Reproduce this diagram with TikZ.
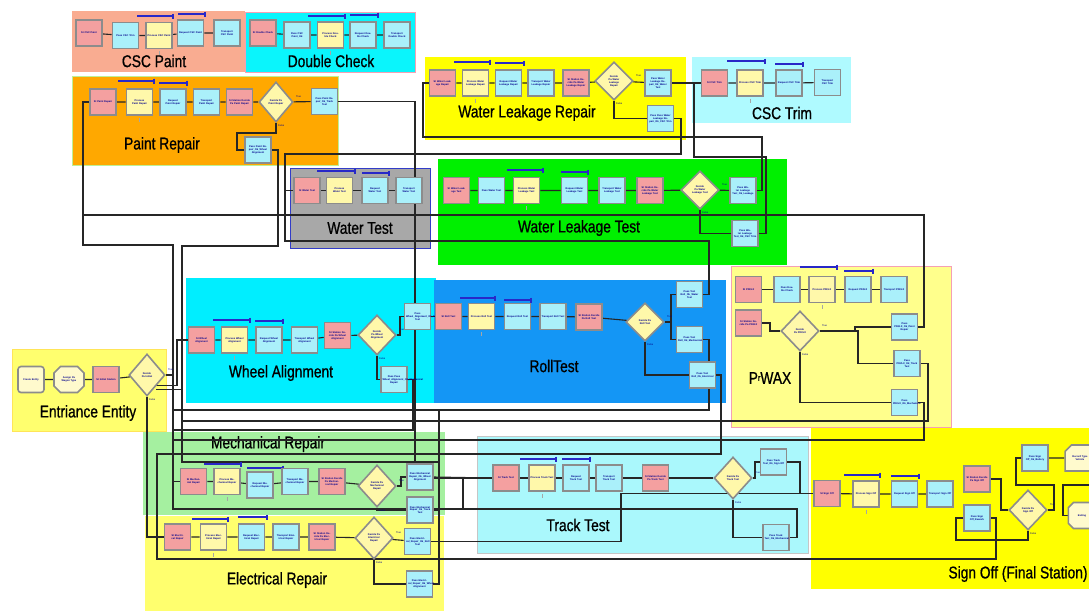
\documentclass[tikz,border=0pt]{standalone}
\usepackage{fontspec}
\setmainfont{Liberation Sans}
\newfontfamily\titlefont[FakeStretch=0.81,FakeBold=0.8]{Liberation Sans}
\usetikzlibrary{shapes.geometric,shapes.misc}
\definecolor{rcscpaint}{RGB}{249,172,145}
\definecolor{rdouble}{RGB}{10,245,252}
\definecolor{rpaint}{RGB}{255,168,0}
\definecolor{ryellow}{RGB}{255,255,0}
\definecolor{rtrim}{RGB}{175,250,255}
\definecolor{rwater}{RGB}{168,168,168}
\definecolor{rgreen}{RGB}{0,240,0}
\definecolor{rwheel}{RGB}{0,238,255}
\definecolor{rroll}{RGB}{20,150,245}
\definecolor{rpwax}{RGB}{255,255,140}
\definecolor{rentry}{RGB}{255,255,110}
\definecolor{rmech}{RGB}{165,240,160}
\definecolor{relec}{RGB}{255,255,110}
\definecolor{rtrack}{RGB}{170,248,252}
\definecolor{rsign}{RGB}{255,255,0}
\definecolor{rpinkb}{RGB}{245,160,180}
\definecolor{rgreenb}{RGB}{190,240,150}
\definecolor{rblueb}{RGB}{50,60,200}
\definecolor{stpink}{RGB}{244,160,160}
\definecolor{pscyan}{RGB}{170,240,250}
\definecolor{pryellow}{RGB}{255,248,170}
\definecolor{lyell}{RGB}{255,250,205}
\definecolor{boxgray}{RGB}{140,140,140}
\definecolor{boxtext}{RGB}{0,0,140}
\definecolor{barblue}{RGB}{40,40,200}
\newcommand\boxfont{\fontsize{2.5}{2.9}\selectfont\bfseries}
\newcommand\tffont{\fontsize{2.5}{3}\selectfont}
\newcommand\myrbar[3]{\draw[resbarst] (#1,#3) -- (#2,#3) (#2,#3-2.5) -- (#2,#3+2.5);}
\newcommand\myqt[1]{\draw[qt] ([yshift=-2pt]#1.south) -- ([yshift=-6pt]#1.south);}
\pgfdeclarelayer{reg}
\pgfdeclarelayer{lines}
\pgfsetlayers{reg,lines,main}
\begin{document}
\begin{tikzpicture}[x=1pt,y=-1pt,
  cn/.style={draw=black!85, line width=1.1pt},
  mbox/.style={draw=boxgray, line width=1.6pt, minimum width=26pt, minimum height=26pt, inner sep=0.5pt, align=center, text width=23pt, font=\boxfont, text=boxtext},
  stb/.style={mbox, fill=stpink},
  psb/.style={mbox, fill=pscyan},
  prb/.style={mbox, fill=pryellow},
  dec/.style={diamond, draw=boxgray, line width=1.6pt, fill=pryellow, minimum width=38pt, minimum height=40pt, inner sep=0pt, align=center, text width=17pt, font=\boxfont, text=boxtext},
  ttl/.style={font=\titlefont\fontsize{17}{19}\selectfont, text=black, inner sep=0pt},
  resbarst/.style={draw=barblue, line width=1.2pt},
  tf/.style={font=\tffont, text=boxtext, inner sep=0pt},
  qt/.style={draw=gray!70, line width=0.5pt}]
\useasboundingbox (0,0) rectangle (1089,611);
\begin{pgfonlayer}{reg}
\fill[white] (0,0) rectangle (1089,611);
% ---------------- regions
\path[fill=rcscpaint] (72,11) rectangle (245,72);
\path[fill=rdouble, draw=rpinkb, line width=0.8pt] (245,12) rectangle (415,72);
\path[fill=rpaint, draw=rgreenb, line width=0.8pt] (72,76) rectangle (338,165);
\path[fill=ryellow] (425,57) rectangle (686,140);
\path[fill=rtrim] (692,57) rectangle (851,123);
\path[fill=rwater, draw=rblueb, line width=1pt] (290,168) rectangle (430,248);
\path[fill=rgreen] (438,159) rectangle (787,265);
\path[fill=rwheel] (186,278) rectangle (436,403);
\path[fill=rroll] (434,280) rectangle (726,403);
\path[fill=rpwax, draw=rpinkb, line width=0.8pt] (731,266) rectangle (951,427);
\path[fill=rentry, draw=rentry!80!orange, line width=0.6pt] (12,349) rectangle (166,431);
\path[fill=rmech] (143,432) rectangle (445,515);
\path[fill=relec] (145,516) rectangle (444,611);
\path[fill=rtrack, draw=gray!45, line width=0.8pt] (477,436) rectangle (808,553);
\path[fill=rsign] (811,428) rectangle (1089,589);
% ---------------- titles
\node[ttl] (tA) at (154,61) {CSC Paint};
\node[ttl] (tB) at (331,61) {Double Check};
\node[ttl] (tC) at (162,145) {Paint Repair};
\node[ttl] (tD) at (527,113) {Water Leakage Repair};
\node[ttl] (tE) at (782,113) {CSC Trim};
\node[ttl] (tF) at (360,228) {Water Test};
\node[ttl] (tG) at (579,228) {Water Leakage Test};
\node[ttl] (tH) at (281,373) {Wheel Alignment};
\node[ttl] (tI) at (554,366) {RollTest};
\node[ttl] (tJ) at (770,378) {P\raisebox{3pt}{\fontsize{9}{9}\selectfont r}WAX};
\node[ttl] (tK) at (88,413) {Entriance Entity};
\node[ttl] (tL) at (268,444) {Mechanical Repair};
\node[ttl] (tM) at (277,580) {Electrical Repair};
\node[ttl] (tN) at (578,525) {Track Test};
\node[ttl] (tO) at (1018,574) {Sign Off (Final Station)};
\end{pgfonlayer}
% ---------------- resource bars
\myrbar{137}{173}{16} \myrbar{178}{205}{14}
\myrbar{308}{345}{16} \myrbar{350}{378}{15}
\myrbar{118}{154}{81} \myrbar{159}{187}{83}
\myrbar{454}{490}{62} \myrbar{495}{524}{63}
\myrbar{727}{765}{61} \myrbar{775}{803}{64}
\myrbar{317}{355}{171} \myrbar{362}{389}{173}
\myrbar{507}{543}{170} \myrbar{561}{588}{172}
\myrbar{213}{250}{320} \myrbar{255}{283}{321}
\myrbar{460}{495}{298} \myrbar{504}{531}{300}
\myrbar{800}{837}{267} \myrbar{844}{873}{271}
\myrbar{204}{241}{464} \myrbar{247}{283}{468}
\myrbar{192}{228}{519} \myrbar{238}{267}{517}
\myrbar{520}{556}{459} \myrbar{562}{590}{459}
\myrbar{844}{880}{475} \myrbar{891}{919}{476}
% ---------------- free end
\coordinate (offR) at (1089,485);
% ---------------- nodes: CSC Paint
\node[stb] (cp1) at (89,33) {St CSC Paint};
\node[psb] (cp2) at (125.5,35.5) {Pass CSC Trim};
\node[prb] (cp3) at (159,35.5) {Process CSC Paint};
\node[psb] (cp4) at (190.5,33) {Request CSC Paint};
\node[psb] (cp5) at (227,33) {Transport CSC Paint};
% Double Check
\node[stb] (dc1) at (263,33) {St Double Check};
\node[psb] (dc2) at (297,35) {Pass CSC Paint\_Ok};
\node[prb] (dc3) at (330.5,35) {Process Double Check};
\node[psb] (dc4) at (363,35) {Request Double Check};
\node[psb] (dc5) at (397,35) {Transport Double Check};
% Paint Repair
\node[stb] (pr1) at (103,102) {St Paint Repair};
\node[prb] (pr2) at (139.5,102) {Process Paint Repair};
\node[psb] (pr3) at (173,102) {Request Paint Repair};
\node[psb] (pr4) at (206.5,102) {Transport Paint Repair};
\node[stb] (pr5) at (239.5,102) {St Station Decide Pa Paint Repair};
\node[dec, minimum width=34pt] (prd) at (276,102) {Decide Pa Paint Repair};
\node[psb] (prp1) at (324.5,101.5) {Pass Paint Repair\_Ok\_Track Test};
\node[psb] (prp2) at (258,150) {Pass Paint Repair\_Ok\_Wheel Alignment};
% Water Leakage Repair
\node[stb] (wr1) at (442.5,83) {St Water Leakage Repair};
\node[prb] (wr2) at (475.5,83) {Process Water Leakage Repair};
\node[psb] (wr3) at (508.5,83) {Request Water Leakage Repair};
\node[psb] (wr4) at (541,83) {Transport Water Leakage Repair};
\node[stb] (wr5) at (576,83) {St Station Decide Pa Water Leakage Repair};
\node[dec, minimum height=38pt] (wrd) at (614,81) {Decide Pa Water Leakage Repair};
\node[psb] (wrp1) at (658,83) {Pass Water Leakage Repair\_Ok\_Water Test};
\node[psb] (wrp2) at (660.5,118.5) {Pass Pass Water Leakage Repair\_Ok\_CSC Trim};
% CSC Trim
\node[stb] (ct1) at (714.5,83) {St CSC Trim};
\node[prb] (ct2) at (750,83) {Process CSC Trim};
\node[psb] (ct3) at (789,83) {Request CSC Trim};
\node[psb] (ct4) at (827.5,82.5) {Transport CSC Trim};
% Water Test
\node[stb] (wt1) at (307,190.5) {St Water Test};
\node[prb] (wt2) at (339.5,190.5) {Process Water Test};
\node[psb] (wt3) at (375,190.5) {Request Water Test};
\node[psb] (wt4) at (409,190.5) {Transport Water Test};
% Water Leakage Test
\node[stb] (wl1) at (456.5,190.5) {St Water Leakage Test};
\node[psb] (wl2) at (491.5,190.5) {Pass Water Test};
\node[prb] (wl3) at (526.5,190.5) {Process Water Leakage Test};
\node[psb] (wl4) at (574.5,190.5) {Request Water Leakage Test};
\node[psb] (wl5) at (612,190.5) {Transport Water Leakage Test};
\node[stb] (wl6) at (650,190.5) {St Station Decide Pa Water Leakage Test};
\node[dec, minimum height=38pt] (wld) at (700,190) {Decide Pa Water Leakage Test};
\node[psb] (wlp1) at (743,190.5) {Pass Water Leakage Test\_Ok\_Leakage};
\node[psb] (wlp2) at (745,233.5) {Pass Water Leakage Test\_Ok\_CSC Trim};
% Wheel Alignment
\node[stb] (wa1) at (201.5,340) {St Wheel Alignment};
\node[prb] (wa2) at (234.5,340) {Process Wheel Alignment};
\node[psb] (wa3) at (269,340) {Request Wheel Alignment};
\node[psb] (wa4) at (304.5,340) {Transport Wheel Alignment};
\node[stb] (wa5) at (337.5,335.5) {St Station Decide Pa Wheel Alignment};
\node[dec] (wad) at (377,335) {Decide Pa Wheel Alignment};
\node[psb] (wap1) at (417.5,316.5) {Pass Wheel\_Alignment\_Ok\_Roll Test};
\node[psb] (wap2) at (394,379.5) {Pass Pass Wheel\_Alignment\_Ok\_Mechanical Repair};
% Roll Test
\node[stb] (rt1) at (448.5,316.5) {St Roll Test};
\node[prb] (rt2) at (481.5,316.5) {Process Roll Test};
\node[psb] (rt3) at (517.5,316.5) {Request Roll Test};
\node[psb] (rt4) at (553,316.5) {Transport Roll Test};
\node[stb] (rt5) at (589,317) {St Station Decide Pa Roll Test};
\node[dec, minimum height=38pt] (rtd) at (645,322) {Decide Pa Roll Test};
\node[psb] (rtp1) at (689.5,294.5) {Pass Test Roll\_Ok\_Water Test};
\node[psb] (rtp2) at (689.5,339.5) {Pass Test Roll\_Ok\_Mechanical};
\node[psb] (rtp3) at (702.5,375) {Pass Test Roll\_Ok\_Electrical};
% PWAX
\node[stb] (pw1s) at (748.5,289.5) {St PDI/LX};
\node[psb] (pw2s) at (787,289.5) {Pass Double Check};
\node[prb] (pw3s) at (822,289.5) {Process PDI/LX};
\node[psb] (pw4s) at (858,289.5) {Request PDI/LX};
\node[psb] (pw5s) at (894,289.5) {Transport PDI/LX};
\node[stb] (pw6s) at (748.5,323) {St Station Decide Pa PDI/LX};
\node[dec] (pwd) at (800,331) {Decide Pa PDI/LX};
\node[psb] (pwp1) at (904.5,327) {Pass PDI/LX\_Ok\_Paint Repair};
\node[psb] (pwp2) at (907,363.5) {Pass PDI/LX\_Ok\_Track Test};
\node[psb] (pwp3) at (904.5,402.5) {Pass PDI/LX\_Ok\_Mechanical};
% Entry
\node[mbox, fill=lyell, rounded corners=3pt] (en1) at (31,379.5) {Create Entity};
\node[mbox, fill=lyell, chamfered rectangle, chamfered rectangle xsep=3pt] (en2) at (69,379.5) {Assign Pa Wagon Type};
\node[stb] (en3) at (106,379.5) {St Initial Station};
\node[dec, minimum width=36pt, minimum height=42pt] (end) at (147,375) {Decide Pa Initial};
% Mechanical
\node[stb] (me1) at (193.5,481.5) {St Mechanical Repair};
\node[prb] (me2) at (227,481.5) {Process Mechanical Repair};
\node[psb] (me3) at (260,485) {Request Mechanical Repair};
\node[psb] (me4) at (295,481.5) {Transport Mechanical Repair};
\node[stb] (me5) at (332,481.5) {St Station Decide Pa Mechanical Repair};
\node[dec, minimum height=42pt] (med) at (377,486) {Decide Pa Mechanical Repair};
\node[psb] (mep1) at (420,477) {Pass Mechanical Repair\_Ok\_Wheel Alignment};
\node[psb] (mep2) at (420,510) {Pass Mechanical Repair\_Ok\_Track Test};
% Electrical
\node[stb] (el1) at (177.5,537) {St Electrical Repair};
\node[prb] (el2) at (213.5,537) {Process Electrical Repair};
\node[psb] (el3) at (251.5,537) {Request Electrical Repair};
\node[psb] (el4) at (286,537) {Transport Electrical Repair};
\node[stb] (el5) at (322,537) {St Station Decide Pa Electrical Repair};
\node[dec, minimum height=42pt] (eld) at (374,538) {Decide Pa Electrical Repair};
\node[psb] (elp1) at (417.5,541.5) {Pass Electrical\_Repair\_Ok\_Roll Test};
\node[psb] (elp2) at (419.5,584) {Pass Electrical\_Repair\_Ok\_Wheel Alignment};
% Track Test
\node[stb] (tt1) at (506,478) {St Track Test};
\node[prb] (tt2) at (542,478) {Process Track Test};
\node[psb] (tt3) at (576,478) {Request Track Test};
\node[psb] (tt4) at (609,478) {Transport Track Test};
\node[stb] (tt5) at (655.5,478) {St Station Decide Pa Track Test};
\node[dec, minimum height=42pt] (ttd) at (733,478) {Decide Pa Track Test};
\node[psb] (ttp1) at (773.5,462) {Pass Track Test\_Ok\_Sign Off};
\node[psb] (ttp2) at (776,537.5) {Pass Track Test\_Ok\_Mechanical};
% Sign Off
\node[stb] (so1) at (827,493.5) {St Sign Off};
\node[prb] (so2) at (866,494) {Process Sign Off};
\node[psb] (so3) at (904.5,494) {Request Sign Off};
\node[psb] (so4) at (940,494) {Transport Sign Off};
\node[stb] (so5) at (977,479) {St Station Decide Pa Sign Off};
\node[psb] (so6) at (977,518) {Pass Sign Off\_Rework};
\node[dec] (sod) at (1028,510) {Decide Pa Sign Off};
\node[psb] (sop1) at (1035,458) {Pass Sign Off\_Ok\_Battery};
\node[mbox, fill=lyell, chamfered rectangle, chamfered rectangle corners={north west}, chamfered rectangle xsep=4pt] (sorec) at (1080,458) {Record Type Vehicle};
\node[mbox, fill=lyell, chamfered rectangle, chamfered rectangle corners={north west,south west}, chamfered rectangle xsep=4pt] (soleave) at (1082,515.5) {Exiting};
% ---------------- queue ticks
\foreach \n in {cp3,dc3,pr2,wr2,ct2,wt2,wl3,wa2,rt2,pw3s,me2,el2,tt2,so2} {\myqt{\n}}
% ---------------- True / False labels
\foreach \d in {prd,wrd,wld,wad,rtd,pwd,end,med,eld,ttd,sod} {
  \node[tf, anchor=west] at ([shift={(2,-5)}]\d.east) {True};
  \node[tf, anchor=west] at ([shift={(2,3)}]\d.south) {False};
}
% ---------------- connectors
\begin{pgfonlayer}{lines}
% chains
\draw[cn] (cp1) -- (cp2) -- (cp3) -- (cp4) -- (cp5);
\draw[cn] (dc1) -- (dc2) -- (dc3) -- (dc4) -- (dc5);
\draw[cn] (pr1) -- (pr2) -- (pr3) -- (pr4) -- (pr5) -- (prd) -- (prp1);
\draw[cn] (wr1) -- (wr2) -- (wr3) -- (wr4) -- (wr5) -- (wrd) -- (wrp1);
\draw[cn] (ct1) -- (ct2) -- (ct3) -- (ct4);
\draw[cn] (wt1) -- (wt2) -- (wt3) -- (wt4);
\draw[cn] (wl1) -- (wl2) -- (wl3) -- (wl4) -- (wl5) -- (wl6) -- (wld) -- (wlp1);
\draw[cn] (wa1) -- (wa2) -- (wa3) -- (wa4) -- (wa5) -- (wad);
\draw[cn] (rt1) -- (rt2) -- (rt3) -- (rt4) -- (rt5) -- (rtd);
\draw[cn] (pw1s) -- (pw2s) -- (pw3s) -- (pw4s) -- (pw5s);
\draw[cn] (en1) -- (en2) -- (en3) -- (end);
\draw[cn] (me1) -- (me2) -- (me3) -- (me4) -- (me5) -- (med);
\draw[cn] (el1) -- (el2) -- (el3) -- (el4) -- (el5) -- (eld) -- (elp1);
\draw[cn] (tt1) -- (tt2) -- (tt3) -- (tt4) -- (tt5) -- (ttd);
\draw[cn] (so1) -- (so2) -- (so3) -- (so4);
\draw[cn] (sop1) -- (sorec);
% decide branches
\draw[cn] (prd.south) -- (276,133) -| (237,150) -- (prp2.west);
\draw[cn] (wrd.south) |- (wrp2.west);
\draw[cn] (wld.south) |- (wlp2.west);
\draw[cn] (wad.east) -| (400,316.5) -- (wap1.west);
\draw[cn] (wad.south) |- (wap2.west);
\draw[cn] (rtd.east) -| (671,294.5) -- (rtp1.west);
\draw[cn] (671,322) |- (rtp2.west);
\draw[cn] (rtd.south) |- (rtp3.west);
\draw[cn] (pw6s.east) -| (770,331) -- (pwd.west);
\draw[cn] (pwd.east) -| (855,327) -- (pwp1.west);
\draw[cn] (pwd.east) -| (858,363.5) -- (pwp2.west);
\draw[cn] (pwd.south) |- (pwp3.west);
\draw[cn] (med.east) -| (401,477) -- (mep1.west);
\draw[cn] (med.south) |- (mep2.west);
\draw[cn] (eld.south) |- (elp2.west);
\draw[cn] (ttd.east) -| (755,462) -- (ttp1.west);
\draw[cn] (ttd.south) |- (ttp2.west);
\draw[cn] (so5.east) -| (1001,510) -- (sod.west);
\draw[cn] (sod.east) -| (1054,485) -| (1016,458) -- (sop1.west);
\draw[cn] (sod.south) -- (1028,540) -| (956,518) -- (so6.west);
\draw[cn] (offR) -| (1063,515.5) -- (soleave.west);
% long routes
\draw[cn] (pwp1.east) -| (924,215) -| (83,102) -- (pr1.west);
\draw[cn] (end.east) -| (173,245) -- (83,245) -- (83,215);
\draw[cn] (173,375) |- (797,509) |- (ttp2.east);
\draw[cn] (173,481.5) -- (me1.west);
\draw[cn] (463,509) |- (tt1.west);
\draw[cn] (end.south east) -| (177,340) -- (wa1.west);
\draw[cn] ([yshift=-4pt]end.south east) -| (182,246) -- (278,246) |- (prp2.east);
\draw[cn] (182,389) -- (182,462) -| (439,410);
\draw[cn] (439,462) |- (elp2.east);
\draw[cn] (mep2.east) -- (439,510);
\draw[cn] (end.south) |- (el1.west);
\draw[cn] (prp1.east) -| (415,478) -- (tt1.west);
\draw[cn] (mep1.east) -- (tt1.west);
\draw[cn] (wap1) -- (rt1);
\draw[cn] (wap2.east) -| (413,430) -- (173,430);
\draw[cn] (wlp1.east) -| (762,137) -| (423,83) -- (wr1.west);
\draw[cn] (wlp2.east) -| (766,157) -| (694,83);
\draw[cn] (wrp1) -- (ct1);
\draw[cn] (wrp2.east) -| (681,154) -| (285,241) -| (709,294.5) -- (rtp1.east);
\draw[cn] (285,190.5) -- (wt1.west);
\draw[cn] (rtp2.east) -| (709,410) -- (173,410);
\draw[cn] (rtp3.east) -| (721,454) -- (157,454) -- (157,559) -- (996,559) |- (so6.east);
\draw[cn] (pwp2.east) -| (928,421) -- (182,421);
\draw[cn] (pwp3.east) -| (924,440) -- (173,440);
\draw[cn] (elp1.east) -- (621,541.5) |- (so1.west);
\draw[cn] (ttp1.east) -| (800,493.5) -- (so1.west);
\end{pgfonlayer}
\end{tikzpicture}
\end{document}
